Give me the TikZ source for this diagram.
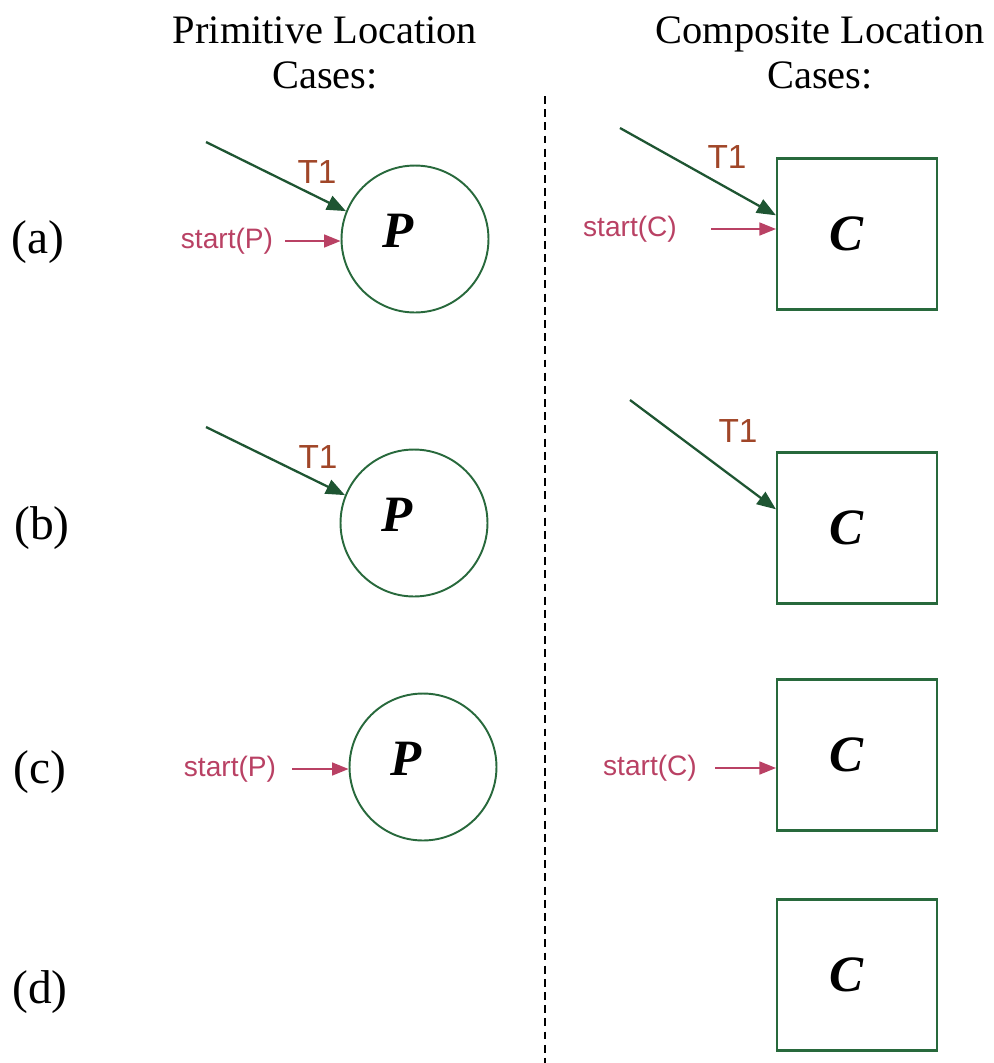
\documentclass[tikz,border=0pt]{standalone}
\usepackage{fontspec}
\setmainfont{Liberation Serif}
\setsansfont{Liberation Sans}
\usetikzlibrary{arrows.meta,positioning,calc}
\definecolor{locgreen}{RGB}{40,105,60}
\definecolor{transgreen}{RGB}{30,85,50}
\definecolor{tbrown}{RGB}{160,70,40}
\definecolor{startred}{RGB}{185,65,100}

\begin{document}
\begin{tikzpicture}[x=0.02cm,y=-0.02cm,
  prim/.style={circle,draw=locgreen,line width=1.1pt,minimum size=2.94cm,inner sep=0pt},
  comp/.style={rectangle,draw=locgreen,line width=1.2pt,minimum width=3.2cm,minimum height=3.02cm,inner sep=0pt},
  locname/.style={font=\fontsize{29}{30}\selectfont\bfseries\itshape},
  heading/.style={align=center,font=\fontsize{23}{25.5}\selectfont},
  caselbl/.style={font=\fontsize{27}{30}\selectfont},
  trans/.style={->,>={Triangle[length=3.8mm,width=3mm]},draw=transgreen,line width=1.3pt},
  tlabel/.style={text=tbrown,font=\sffamily\fontsize{19}{20}\selectfont},
  startarr/.style={->,>={Triangle[length=3.3mm,width=2.6mm]},draw=startred,line width=0.9pt},
  slabel/.style={text=startred,font=\sffamily\fontsize{16}{18}\selectfont}]
  \useasboundingbox (0,0) rectangle (994,1063);
  % headings and divider
  \node[heading] (hprim) at (325,53) {Primitive Location\\Cases:};
  \node[heading] (hcomp) at (820,53) {Composite Location\\Cases:};
  \coordinate (divtop) at (545,96);
  \coordinate (divbot) at (545,1063);
  \draw[dash pattern=on 4.5pt off 3pt,line width=0.7pt] (divtop) -- (divbot);
  % case labels
  \node[caselbl] (ca) at (38,242) {(a)};
  \node[caselbl] (cb) at (42,528) {(b)};
  \node[caselbl] (cc) at (40,772) {(c)};
  \node[caselbl] (cd) at (40,992) {(d)};
  % primitive locations
  \node[prim] (Pa) at (415,239) {};
  \node[prim] (Pb) at (414,523) {};
  \node[prim] (Pc) at (423,767) {};
  \foreach \p in {Pa,Pb,Pc}
    \node[locname] at ($(\p)+(-17,-8)$) {P};
  % composite locations
  \node[comp] (Ca) at (857,234) {};
  \node[comp] (Cb) at (857,528) {};
  \node[comp] (Cc) at (857,755) {};
  \node[comp] (Cd) at (857,975) {};
  \foreach \c in {Ca,Cb,Cc,Cd}
    \node[locname] at ($(\c)+(-11,0)$) {C};
  % case (a)
  \coordinate (ta1) at (206,142);
  \draw[trans] (ta1) -- (Pa.158);
  \node[tlabel] (la1) at (317,172) {T1};
  \node[slabel] (sa1) at (227,241) {start(P)};
  \draw[startarr] ($(sa1.east)+(6,0)$) -- (sa1.east -| Pa.west);
  \coordinate (ta2) at (620,128);
  \draw[trans] (ta2) -- (Ca.167);
  \node[tlabel] (la2) at (727,157) {T1};
  \node[slabel] (sa2) at (630,229) {start(C)};
  \draw[startarr] ($(sa2.east)+(28,0)$) -- (sa2.east -| Ca.west);
  % case (b)
  \coordinate (tb1) at (206,427);
  \draw[trans] (tb1) -- (Pb.158);
  \node[tlabel] (lb1) at (318,457) {T1};
  \coordinate (tb2) at (630,400);
  \draw[trans] (tb2) -- (Cb.167);
  \node[tlabel] (lb2) at (738,431) {T1};
  % case (c)
  \node[slabel] (sc1) at (230,769) {start(P)};
  \draw[startarr] ($(sc1.east)+(10,0)$) -- (sc1.east -| Pc.west);
  \node[slabel] (sc2) at (650,768) {start(C)};
  \draw[startarr] ($(sc2.east)+(12,0)$) -- (sc2.east -| Cc.west);
\end{tikzpicture}
\end{document}
